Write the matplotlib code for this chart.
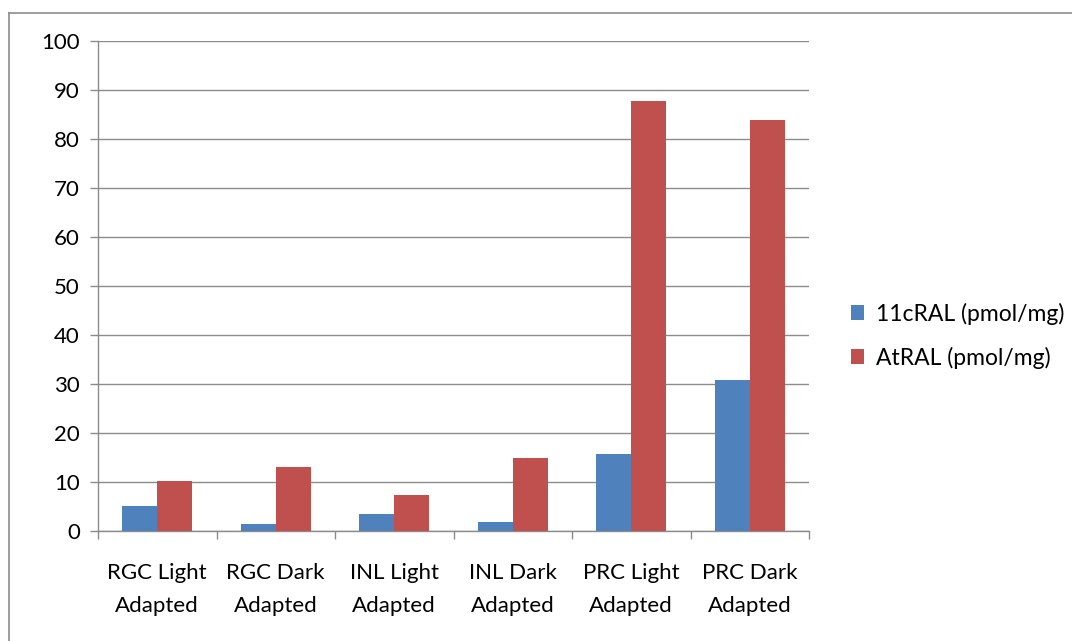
import numpy as np
import matplotlib
matplotlib.use('Agg')
import matplotlib.pyplot as plt
from matplotlib.lines import Line2D

plt.rcParams['font.family'] = ['Lato', 'DejaVu Sans']

# chart data
categories = ['RGC Light\nAdapted', 'RGC Dark\nAdapted', 'INL Light\nAdapted',
              'INL Dark\nAdapted', 'PRC Light\nAdapted', 'PRC Dark\nAdapted']
cral11 = [5.1, 1.5, 3.5, 1.8, 15.7, 30.9]
atral = [10.2, 13.1, 7.4, 14.9, 87.7, 83.8]
series_names = ['11cRAL (pmol/mg)', 'AtRAL (pmol/mg)']

fig = plt.figure(figsize=(10.72, 6.41), dpi=100)
W, H = 1072, 641
ax = fig.add_axes([98 / W, 1 - 531 / H, (809 - 98) / W, (531 - 41) / H])

x = np.arange(len(categories))
bw = 0.295
ax.bar(x - bw / 2, cral11, bw, color='#4F81BD', label=series_names[0], zorder=3)
ax.bar(x + bw / 2, atral, bw, color='#C0504D', label=series_names[1], zorder=3)

ax.set_xlim(-0.5, len(categories) - 0.5)
ax.set_ylim(0, 100)
ax.set_yticks(range(0, 101, 10))
ax.yaxis.grid(True, color='#8c8c8c', linewidth=1.0, zorder=0)
ax.set_axisbelow(True)

ax.set_xticks(np.arange(-0.5, len(categories), 1.0))
ax.set_xticklabels([])
ax.set_xticks(x, minor=True)
ax.set_xticklabels(categories, minor=True, fontsize=16, linespacing=1.8)
ax.tick_params(axis='x', which='minor', length=0, pad=23)
ax.tick_params(axis='x', which='major', length=6, color='#8c8c8c', width=1)
ax.tick_params(axis='y', length=6, color='#8c8c8c', width=1, labelsize=16, pad=7)

for s in ['top', 'right']:
    ax.spines[s].set_visible(False)
for s in ['left', 'bottom']:
    ax.spines[s].set_color('#8c8c8c')
    ax.spines[s].set_linewidth(1.0)

leg = fig.legend(loc='upper left', bbox_to_anchor=(830 / W, 1 - 282 / H),
                 frameon=False, fontsize=16.5, handlelength=0.6, handleheight=0.6,
                 handletextpad=0.5, labelspacing=0.95)

# outer chart border (left and top only visible)
fig.add_artist(Line2D([9 / W, 9 / W], [0, 1 - 13 / H], color='#8c8c8c', linewidth=1.2))
fig.add_artist(Line2D([9 / W, 1], [1 - 13 / H, 1 - 13 / H], color='#8c8c8c', linewidth=1.2))

fig.savefig('out.png', dpi=100)
